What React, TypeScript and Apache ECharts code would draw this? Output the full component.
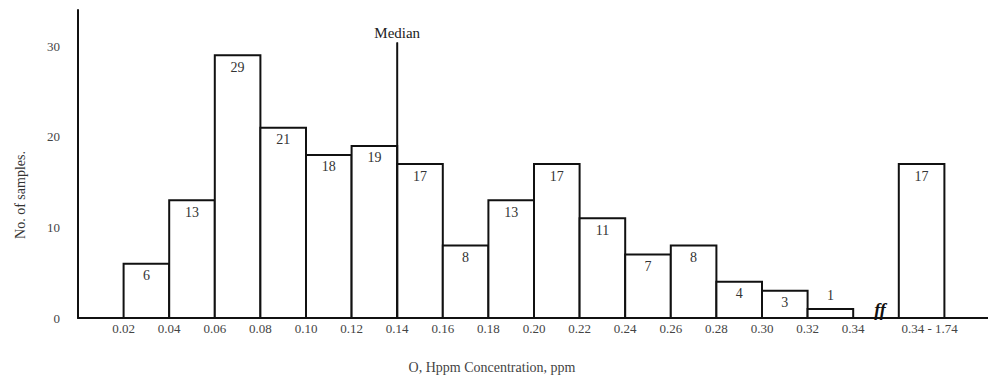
import React, { useEffect, useRef } from "react";
import * as echarts from "echarts";

// Class boundaries (labels under the bar edges)
const edgeLabels = ["0.02", "0.04", "0.06", "0.08", "0.10", "0.12", "0.14", "0.16", "0.18", "0.20", "0.22", "0.24", "0.26", "0.28", "0.30", "0.32", "0.34"];
// Number of samples in each class 0.02-0.04 ... 0.32-0.34
const counts = [6, 13, 29, 21, 18, 19, 17, 8, 13, 17, 11, 7, 8, 4, 3, 1];
// Open-ended class after the axis break
const lastClassLabel = "0.34 - 1.74";
const lastClassCount = 17;
// Median position (class boundary index of 0.14) and the height of its marker line
const medianSlot = 7;
const medianTop = 30.4;
const yTicks = [0, 10, 20, 30];

const SERIF = "'Liberation Serif', 'DejaVu Serif', serif";

export default function App() {
  const ref = useRef<HTMLDivElement>(null);
  useEffect(() => {
    if (!ref.current) return;
    const chart = echarts.init(ref.current, null, { renderer: "svg" });
    const bars: number[][] = counts.map((c, i) => [i + 1, i + 2, c]);
    bars.push([18, 19, lastClassCount]);
    const lastIdx = bars.length - 1;

    chart.setOption({
      animation: false,
      backgroundColor: "#fff",
      grid: { left: 70, right: 6, top: 2, bottom: 61 },
      xAxis: {
        type: "value",
        min: 0,
        max: 20,
        interval: 1,
        axisLine: { show: true, lineStyle: { color: "#111", width: 2 } },
        axisTick: { show: false },
        splitLine: { show: false },
        axisLabel: {
          margin: 4,
          color: "#444",
          fontFamily: SERIF,
          fontSize: 13,
          formatter: (v: number) => (v >= 1 && v <= edgeLabels.length ? edgeLabels[v - 1] : ""),
        },
      },
      yAxis: {
        type: "value",
        min: 0,
        max: 34,
        interval: 10,
        axisLine: { show: true, lineStyle: { color: "#111", width: 2 } },
        axisTick: { show: false },
        splitLine: { show: false },
        axisLabel: {
          margin: 18,
          color: "#444",
          fontFamily: SERIF,
          fontSize: 13,
          showMaxLabel: false,
          formatter: (v: number) => (yTicks.indexOf(v) >= 0 ? String(v) : ""),
        },
      },
      series: [
        {
          type: "custom",
          data: bars,
          encode: { x: [0, 1], y: 2 },
          renderItem: (params: any, api: any) => {
            const start = api.value(0);
            const end = api.value(1);
            const v = api.value(2);
            const p0 = api.coord([start, 0]);
            const p1 = api.coord([end, v]);
            const cx = (p0[0] + p1[0]) / 2;
            const children: any[] = [
              {
                type: "rect",
                shape: { x: p0[0], y: p1[1], width: p1[0] - p0[0], height: p0[1] - p1[1] },
                style: { fill: "#fff", stroke: "#111", lineWidth: 2 },
              },
              {
                type: "text",
                style: {
                  text: String(v),
                  x: cx,
                  y: p1[1] + (v <= 1 ? -20 : 5),
                  align: "center",
                  verticalAlign: "top",
                  fill: "#333",
                  font: `14px ${SERIF}`,
                },
              },
            ];
            if (params.dataIndex === lastIdx) {
              children.push({
                type: "text",
                style: {
                  text: lastClassLabel,
                  x: cx + 8,
                  y: p0[1] + 4,
                  align: "center",
                  verticalAlign: "top",
                  fill: "#444",
                  font: `13px ${SERIF}`,
                },
              });
            }
            return { type: "group", children };
          },
          z: 2,
        },
        {
          type: "line",
          data: [
            [medianSlot, 0],
            {
              value: [medianSlot, medianTop],
              label: {
                show: true,
                position: "top",
                formatter: "Median",
                color: "#222",
                fontFamily: SERIF,
                fontSize: 15,
                distance: 2,
              },
            },
          ],
          symbol: "circle",
          symbolSize: 1,
          itemStyle: { color: "#111" },
          lineStyle: { color: "#111", width: 2 },
          z: 3,
        },
      ],
      graphic: [
        {
          type: "text",
          x: 12,
          y: 187,
          rotation: Math.PI / 2,
          style: {
            text: "No. of samples.",
            align: "center",
            verticalAlign: "middle",
            fill: "#333",
            font: `14px ${SERIF}`,
          },
        },
        {
          type: "text",
          x: 484,
          y: 359,
          style: {
            text: "O, Hppm Concentration, ppm",
            align: "center",
            verticalAlign: "middle",
            fill: "#444",
            font: `14px ${SERIF}`,
          },
        },
        {
          type: "text",
          x: 872,
          y: 302,
          style: {
            text: "ff",
            align: "center",
            verticalAlign: "middle",
            fill: "#111",
            font: `italic bold 18px ${SERIF}`,
          },
        },
      ],
    });
    return () => chart.dispose();
  }, []);
  return <div ref={ref} style={{ width: 988, height: 371 }} />;
}
